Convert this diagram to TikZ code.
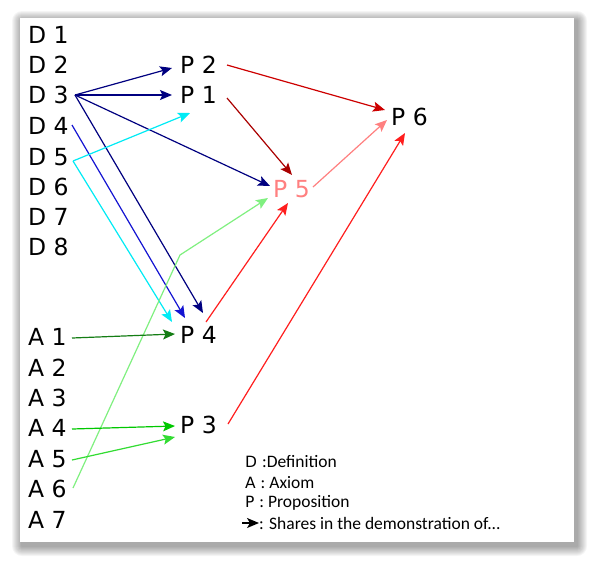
\documentclass[tikz,border=0pt]{standalone}
\usepackage{fontspec}
\newfontfamily\dejavu{DejaVu Sans}
\newfontfamily\carlito{Carlito}
\usetikzlibrary{arrows.meta,calc}
\definecolor{navyc}{RGB}{0,0,128}
\definecolor{bluec}{RGB}{20,20,210}
\definecolor{cyanc}{RGB}{0,235,245}
\definecolor{lgreen}{RGB}{128,240,128}
\definecolor{dgreen}{RGB}{20,125,20}
\definecolor{mgreen}{RGB}{0,200,0}
\definecolor{lime}{RGB}{50,220,50}
\definecolor{redc}{RGB}{255,30,30}
\definecolor{dred}{RGB}{205,0,0}
\definecolor{ddred}{RGB}{170,0,0}
\definecolor{salmon}{RGB}{255,128,128}
\begin{document}
\begin{tikzpicture}[x=1pt,y=-1pt,
  lbl/.style={anchor=west,inner sep=0pt,font=\dejavu\fontsize{23.5}{23.5}\selectfont},
  legtext/.style={anchor=west,inner sep=0pt},
  conn/.style={line width=1.2pt,-{Stealth[length=12pt,width=10pt,inset=2.5pt]}},
]
\useasboundingbox (0,0) rectangle (594,563);
% shadow
\foreach \i in {1,...,10}
  \fill[black,opacity=0.04,rounded corners=\i pt] (22-\i,21-\i) rectangle (577+\i,546+\i);
\fill[white] (20,18) rectangle (574,542);

% left column
\node[lbl] (D1) at (28,35) {D 1};
\node[lbl] (D2) at (28,65) {D 2};
\node[lbl] (D3) at (28,95) {D 3};
\node[lbl] (D4) at (28,126) {D 4};
\node[lbl] (D5) at (28,157) {D 5};
\node[lbl] (D6) at (28,187) {D 6};
\node[lbl] (D7) at (28,217) {D 7};
\node[lbl] (D8) at (28,247) {D 8};
\node[lbl] (A1) at (28,337) {A 1};
\node[lbl] (A2) at (28,368) {A 2};
\node[lbl] (A3) at (28,398) {A 3};
\node[lbl] (A4) at (28,428) {A 4};
\node[lbl] (A5) at (28,459) {A 5};
\node[lbl] (A6) at (28,489) {A 6};
\node[lbl] (A7) at (28,520) {A 7};

% propositions
\node[lbl] (P2) at (180,65) {P 2};
\node[lbl] (P1) at (180,95) {P 1};
\node[lbl,text=salmon] (P5) at (273,189) {P 5};
\node[lbl] (P6) at (391,117) {P 6};
\node[lbl] (P4) at (180,335) {P 4};
\node[lbl] (P3) at (180,425) {P 3};

% connectors
\draw[conn,navyc] ($(D3.west)+(47,0)$) -- ($(P2.west)+(-8,3)$);
\draw[conn,navyc] ($(D3.west)+(47,0)$) -- ($(P1.west)+(-8,0)$);
\draw[conn,navyc] ($(D3.west)+(47,0)$) -- ($(P5.west)+(-3,-3)$);
\draw[conn,navyc] ($(D3.west)+(47,0)$) -- ($(P4.west)+(23,-22)$);
\draw[conn,bluec] ($(D4.west)+(44,-1)$) -- ($(P4.west)+(5,-17)$);
\draw[conn,cyanc] ($(D5.west)+(45,4)$) -- ($(P1.west)+(10,18)$);
\draw[conn,cyanc] ($(D5.west)+(45,4)$) -- ($(P4.west)+(-8,-13)$);
\coordinate (bend) at (180,255);
\draw[conn,lgreen] ($(A6.west)+(45,-1)$) -- (bend) -- ($(P5.west)+(-5,9)$);
\draw[conn,dgreen] ($(A1.west)+(44,1)$) -- ($(P4.west)+(-5,-1)$);
\draw[conn,mgreen] ($(A4.west)+(44,1)$) -- ($(P3.west)+(-5,1)$);
\draw[conn,lime] ($(A5.west)+(44,1)$) -- ($(P3.west)+(-5,12)$);
\draw[conn,redc] ($(P4.west)+(26,-13)$) -- ($(P5.west)+(15,14)$);
\draw[conn,redc] ($(P3.west)+(48,-1)$) -- ($(P6.west)+(14,16)$);
\draw[conn,dred] ($(P2.west)+(47,0)$) -- ($(P6.west)+(-6,-7)$);
\draw[conn,ddred] ($(P1.west)+(47,3)$) -- ($(P5.west)+(19,-14)$);
\draw[conn,salmon] ($(P5.west)+(40,-2)$) -- ($(P6.west)+(-4,3)$);

% legend
\node[legtext] (legD) at (245,462) {\dejavu\fontsize{15.5}{15.5}\selectfont D \carlito\fontsize{17.5}{17.5}\selectfont :Definition};
\node[legtext] (legA) at (245,483) {\dejavu\fontsize{15.5}{15.5}\selectfont A \carlito\fontsize{17.5}{17.5}\selectfont : Axiom};
\node[legtext] (legP) at (245,503) {\dejavu\fontsize{15.5}{15.5}\selectfont P \carlito\fontsize{17.5}{17.5}\selectfont : Proposition};
\node[legtext] (legS) at (259,523) {\carlito\fontsize{17.5}{17.5}\selectfont : Shares in the demonstration of...};
\coordinate (legArrow) at (242,523);
\draw[line width=1.3pt,-{Stealth[length=12pt,width=10pt,inset=3pt]}] (legArrow) -- (legS.west);
\end{tikzpicture}
\end{document}
